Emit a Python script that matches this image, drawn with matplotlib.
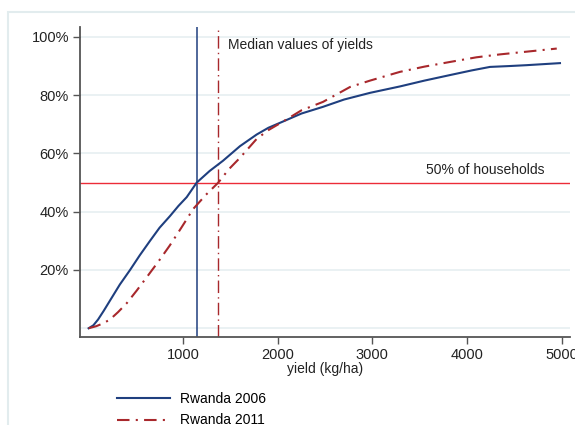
import numpy as np
import matplotlib
matplotlib.use('Agg')
import matplotlib.pyplot as plt
from matplotlib.patches import Rectangle

plt.rcParams['font.family'] = ['Liberation Sans', 'DejaVu Sans']

# Cumulative share of households by yield
yield_2006 = [0, 50, 100, 160, 226, 330, 438, 540, 649, 750, 860, 950, 1037, 1143, 1280, 1421,
              1600, 1777, 1900, 2058, 2250, 2478, 2700, 2975, 3291, 3550, 3820, 4050, 4243,
              4450, 4631, 4983]
share_2006 = [0, 1, 3, 6, 9.5, 15, 20, 25, 30, 34.5, 38.5, 42, 45, 50, 54, 57.5,
              62.5, 66.5, 68.8, 71, 73.7, 76, 78.5, 80.8, 83, 85, 86.9, 88.5, 89.7,
              90, 90.3, 91]

yield_2011 = [0, 80, 155, 226, 310, 403, 510, 614, 740, 860, 980, 1107, 1240, 1371, 1480,
              1600, 1777, 1900, 2058, 2250, 2478, 2763, 2975, 3291, 3550, 3820, 4100, 4349,
              4650, 4949]
share_2011 = [0, 0.7, 1.7, 3, 5.5, 8.6, 13, 17.5, 23, 28.5, 34.5, 41, 45.8, 50, 54.5,
              58.5, 65, 68, 71, 74.8, 77.7, 82.8, 85, 88, 89.8, 91.4, 93, 94,
              95, 96]

median_2006 = 1143
median_2011 = 1371
half_share = 50

y_ticks = [20, 40, 60, 80, 100]
y_labels = ['20%', '40%', '60%', '80%', '100%']
x_ticks = [1000, 2000, 3000, 4000, 5000]

blue = '#1f3f7f'
dark_red = '#a8282c'
bright_red = '#ec2c38'
grid_col = '#e8f0f2'

fig = plt.figure(figsize=(5.75, 4.25), dpi=100)
fig.patch.set_facecolor('white')

# light outer frame like the Stata graph region
fig.patches.append(Rectangle((8 / 575, -0.1), 1.2, (425 - 12) / 425 + 0.1,
                             transform=fig.transFigure, fill=False,
                             edgecolor='#e2ecee', linewidth=1.5))

ax = fig.add_axes([80 / 575, 88 / 425, 490 / 575, 310 / 425])

for g in [0] + y_ticks:
    ax.axhline(g, color=grid_col, lw=1.3, zorder=0)

dashdot = (6, 3, 1, 3)
ax.plot(yield_2006, share_2006, color=blue, lw=1.5, label='Rwanda 2006', zorder=3)
ax.plot(yield_2011, share_2011, color=dark_red, lw=1.5, dashes=dashdot, label='Rwanda 2011', zorder=3)

ax.axvline(median_2006, color=blue, lw=1.1, zorder=2)
ax.axvline(median_2011, color=dark_red, lw=1.0, dashes=(9, 3, 1, 3), zorder=2)
ax.axhline(half_share, color=bright_red, lw=1.0, zorder=2)

ax.text(1474, 97.2, 'Median values of yields', fontsize=10, va='center', color='#222222')
ax.text(3568, 54.3, '50% of households', fontsize=10, va='center', color='#222222')

ax.set_xlim(-91, 5089)
ax.set_ylim(-3, 103.4)
ax.set_xticks(x_ticks)
ax.set_yticks(y_ticks)
ax.set_yticklabels(y_labels)
ax.tick_params(axis='both', direction='out', length=5, width=1, color='#555555',
               labelsize=10.5, labelcolor='#222222', pad=3)
ax.set_xlabel('yield (kg/ha)', fontsize=10, labelpad=0, color='#222222')

for s in ['top', 'right']:
    ax.spines[s].set_visible(False)
for s in ['left', 'bottom']:
    ax.spines[s].set_color('#555555')
    ax.spines[s].set_linewidth(1.3)

fig.legend(loc='upper left', bbox_to_anchor=(117 / 575, 0.078), frameon=False,
           fontsize=10, handlelength=3.8, handletextpad=0.75, labelspacing=0.55,
           borderpad=0, borderaxespad=0)

fig.savefig('out.png', dpi=100)
